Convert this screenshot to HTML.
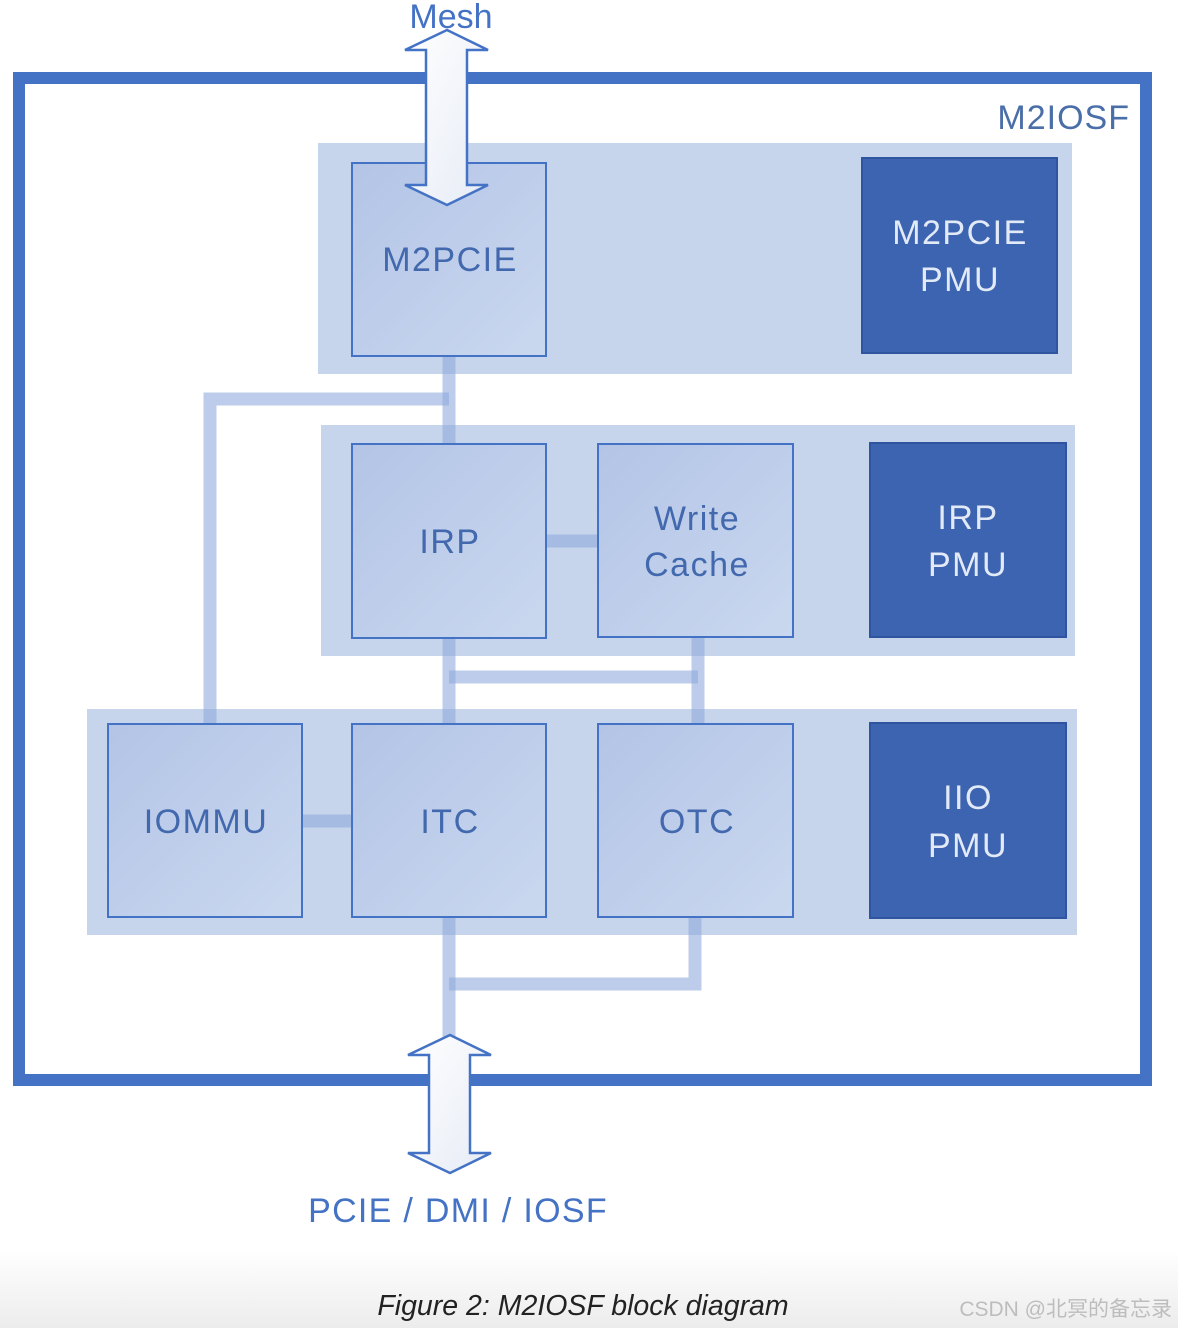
<!DOCTYPE html>
<html><head><style>
html,body{margin:0;padding:0;background:#fff;}
svg{display:block;}
text{font-family:"Liberation Sans","DejaVu Sans",sans-serif;}
</style></head><body>
<svg width="1178" height="1328" viewBox="0 0 1178 1328" xmlns="http://www.w3.org/2000/svg">
<defs>
<linearGradient id="bx" x1="0" y1="0" x2="1" y2="1">
<stop offset="0" stop-color="#b3c4e6"/><stop offset="1" stop-color="#cad8ef"/>
</linearGradient>
<linearGradient id="ar" x1="0" y1="0" x2="1" y2="1">
<stop offset="0" stop-color="#ffffff"/><stop offset="1" stop-color="#e6ebf5"/>
</linearGradient>
<linearGradient id="foot" x1="0" y1="0" x2="0" y2="1">
<stop offset="0" stop-color="#ffffff"/><stop offset="1" stop-color="#ececec"/>
</linearGradient>
</defs>
<rect x="0" y="1250" width="1178" height="78" fill="url(#foot)"/>
<rect x="19" y="78" width="1127" height="1002" fill="none" stroke="#4472c4" stroke-width="12"/>
<text x="1130" y="129" font-size="34" fill="#4a6fa8" text-anchor="end" letter-spacing="1">M2IOSF</text>
<rect x="318" y="143" width="754" height="231" fill="#c7d5ec"/>
<rect x="321" y="425" width="754" height="231" fill="#c7d5ec"/>
<rect x="87" y="709" width="990" height="226" fill="#c7d5ec"/>
<g fill="none" stroke="rgba(143,170,220,0.6)" stroke-width="13">
<path d="M449 356 V444"/>
<path d="M449 399 H210 V724"/>
<path d="M546 541 H598"/>
<path d="M449 638 V724"/>
<path d="M698 637 V724"/>
<path d="M449 677 H698"/>
<path d="M302 821 H352"/>
<path d="M449 917 V1040"/>
<path d="M695 917 V984 H449"/>
</g>
<g stroke="#4472c4" stroke-width="2" fill="url(#bx)">
<rect x="352" y="163" width="194" height="193"/>
<rect x="352" y="444" width="194" height="194"/>
<rect x="598" y="444" width="195" height="193"/>
<rect x="108" y="724" width="194" height="193"/>
<rect x="352" y="724" width="194" height="193"/>
<rect x="598" y="724" width="195" height="193"/>
</g>
<g fill="#3d64b0" stroke="#2f55a0" stroke-width="2">
<rect x="862" y="158" width="195" height="195"/>
<rect x="870" y="443" width="196" height="194"/>
<rect x="870" y="723" width="196" height="195"/>
</g>
<g font-size="34" fill="#4268ad" text-anchor="middle" letter-spacing="1.5">
<text x="450" y="271">M2PCIE</text>
<text x="450" y="553">IRP</text>
<text x="697" y="530">Write</text>
<text x="697" y="576">Cache</text>
<text x="206" y="833">IOMMU</text>
<text x="450" y="833">ITC</text>
<text x="697" y="833">OTC</text>
</g>
<g font-size="34" fill="#e3eaf7" text-anchor="middle" letter-spacing="1.5">
<text x="960" y="244">M2PCIE</text>
<text x="960" y="291">PMU</text>
<text x="968" y="529">IRP</text>
<text x="968" y="576">PMU</text>
<text x="968" y="809">IIO</text>
<text x="968" y="857">PMU</text>
</g>
<path d="M447 30 L488 50 L467 50 L467 185 L488 185 L447 205 L405 185 L426 185 L426 50 L405 50 Z" fill="url(#ar)" stroke="#4472c4" stroke-width="2.5"/>
<path d="M450 1035 L491 1055 L470 1055 L470 1153 L491 1153 L450 1173 L408 1153 L429 1153 L429 1055 L408 1055 Z" fill="url(#ar)" stroke="#4472c4" stroke-width="2.5"/>
<text x="451" y="28" font-size="34" fill="#4472c4" text-anchor="middle">Mesh</text>
<text x="458" y="1222" font-size="34" fill="#4472c4" text-anchor="middle" letter-spacing="1.3">PCIE / DMI / IOSF</text>
<text x="583" y="1315" font-size="28.5" fill="#222" font-style="italic" text-anchor="middle">Figure 2: M2IOSF block diagram</text>
<text x="1172" y="1316" font-size="21" fill="#bdbdbd" text-anchor="end" font-family="Liberation Sans, Noto Sans CJK SC, sans-serif">CSDN @北冥的备忘录</text>
</svg>
</body></html>
